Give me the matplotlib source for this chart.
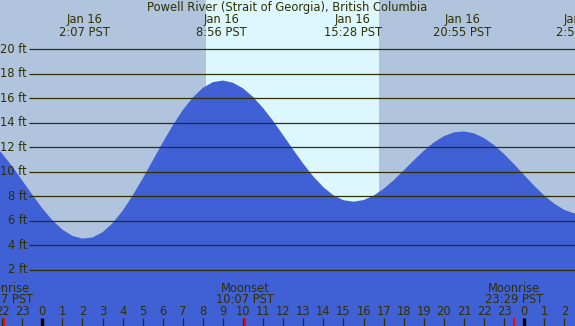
import numpy as np
import matplotlib
matplotlib.use("Agg")
import matplotlib.pyplot as plt

# tide height (ft) every half hour, starting 22:30 the day before
hours = np.arange(-2.5, 27.01, 0.5)
heights = [12.38, 11.50, 10.45, 9.30, 8.14, 7.03, 6.06, 5.29, 4.78, 4.56,
           4.65, 5.08, 5.82, 6.83, 8.07, 9.46, 10.93, 12.40, 13.80, 15.05,
           16.08, 16.86, 17.32, 17.45, 17.27, 16.81, 16.11, 15.20, 14.15, 12.98,
           11.80, 10.66, 9.62, 8.75, 8.09, 7.69, 7.57, 7.70, 8.06, 8.62,
           9.32, 10.12, 10.94, 11.72, 12.40, 12.91, 13.22, 13.30, 13.14, 12.76,
           12.19, 11.46, 10.62, 9.74, 8.86, 8.07, 7.40, 6.90, 6.61, 6.55]

# high / low tide events
event_hours = [2.117, 8.933, 15.467, 20.917, 26.867]
event_dates = ["Jan 16", "Jan 16", "Jan 16", "Jan 16", "Jan 17"]
event_times = ["2:07 PST", "8:56 PST", "15:28 PST", "20:55 PST", "2:52 PST"]

# moon events
moon_hours = [-1.883, 10.117, 23.483]
moon_names = ["Moonrise", "Moonset", "Moonrise"]
moon_times = ["22:07 PST", "10:07 PST", "23:29 PST"]

sunrise, sunset = 8.15, 16.77

ft_levels = [2, 4, 6, 8, 10, 12, 14, 16, 18, 20]
tick_hours = list(range(-2, 27))
tick_labels = ["22", "23", "0", "1", "2", "3", "4", "5", "6", "7", "8", "9",
               "10", "11", "12", "13", "14", "15", "16", "17", "18", "19",
               "20", "21", "22", "23", "0", "1", "2"]

night = "#B0C4DE"
day = "#DDF7FF"
water = "#4060D6"
ink = "#303000"
fs = 8.3

plt.rcParams["font.family"] = "DejaVu Sans"
fig = plt.figure(figsize=(5.75, 3.26), dpi=100)
ax = fig.add_axes([0, 0, 1, 1])
ax.set_xlim(-2.107, 26.53)
ax.set_ylim(-2.57, 24.02)
ax.axis("off")
ax.add_patch(plt.Rectangle((0, 0), 1, 1, transform=ax.transAxes, color=night, zorder=0))

ax.axvspan(sunrise, sunset, color=day, lw=0, zorder=1)
ax.fill_between(hours, -5, heights, color=water, lw=0, zorder=2)

ax.hlines(ft_levels, -0.65, 27, color=ink, lw=0.9, zorder=3)
for f in ft_levels:
    ax.text(0.047, f, f"{f} ft", transform=ax.get_yaxis_transform(),
            ha="right", va="center", fontsize=fs, color=ink, zorder=4)

ax.text(0.5, 1 - 8 / 326, "Powell River (Strait of Georgia), British Columbia",
        transform=ax.transAxes, ha="center", va="center", fontsize=fs, color=ink)
xt = ax.get_xaxis_transform()
for h, d, t in zip(event_hours, event_dates, event_times):
    ax.text(h, 1 - 19.5 / 326, d, transform=xt, ha="center", va="center",
            fontsize=fs, color=ink)
    ax.text(h, 1 - 32 / 326, t, transform=xt, ha="center", va="center",
            fontsize=fs, color=ink)

for h, n, t in zip(moon_hours, moon_names, moon_times):
    ax.text(h, 1 - 288 / 326, n, transform=xt, ha="center", va="center",
            fontsize=fs, color=ink, zorder=4)
    ax.text(h, 1 - 299.5 / 326, t, transform=xt, ha="center", va="center",
            fontsize=fs, color=ink, zorder=4)

# hour ticks along the bottom
for h, lab in zip(tick_hours, tick_labels):
    ax.text(h, 1 - 311.5 / 326, lab, transform=xt, ha="center", va="center",
            fontsize=fs, color=ink, zorder=4)
    if lab == "0":
        ax.vlines(h, 0, 8 / 326, transform=xt, color="black", lw=2.4, zorder=4)
    else:
        ax.vlines(h, 0, 8 / 326, transform=xt, color=ink, lw=0.9, zorder=4)
ax.vlines(moon_hours, 0, 8 / 326, transform=xt, color="red", lw=1.4, zorder=5)

fig.savefig("out.png", dpi=100)
